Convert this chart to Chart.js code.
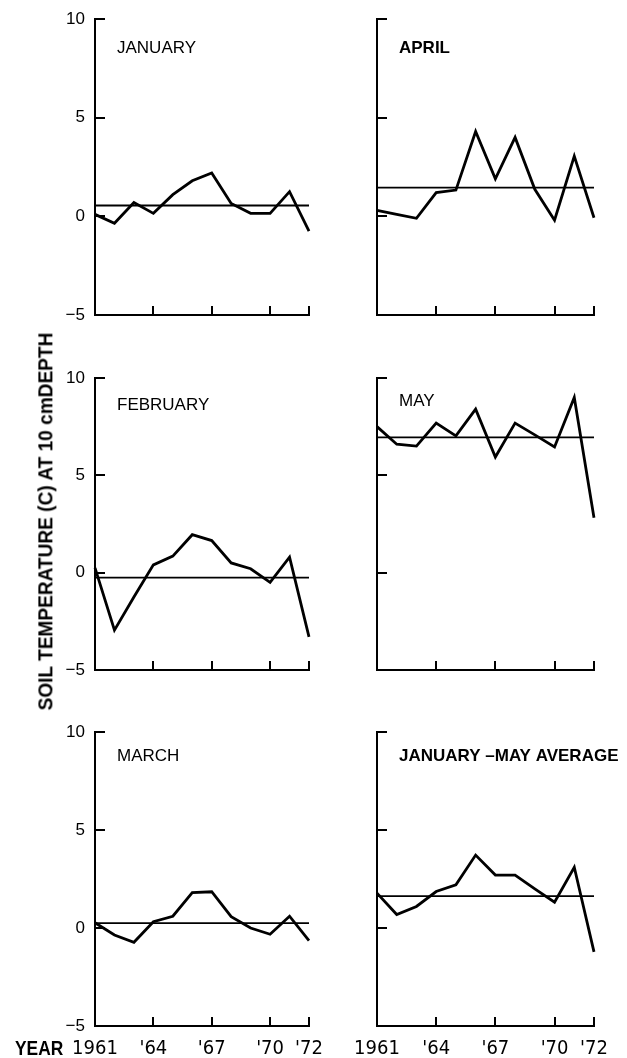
<!DOCTYPE html>
<html>
<head>
<meta charset="utf-8">
<script src="https://cdn.jsdelivr.net/npm/chart.js@4.4.0/dist/chart.umd.min.js"></script>
<style>
  html, body { margin: 0; padding: 0; background: #fff; }
  body { width: 627px; height: 1058px; position: relative; overflow: hidden; }
  canvas { position: absolute; }
  .lbl { position: absolute; white-space: nowrap; color: #000; line-height: 1; font-family: "Liberation Sans", Arial, sans-serif; font-weight: bold; }
  #ylab { font-size: 21px; transform-origin: 50% 50%; }
  #year { font-size: 21px; transform-origin: 0 50%; }
</style>
</head>
<body>
<canvas id="c0"></canvas>
<canvas id="c1"></canvas>
<canvas id="c2"></canvas>
<canvas id="c3"></canvas>
<canvas id="c4"></canvas>
<canvas id="c5"></canvas>
<div class="lbl" id="ylab">SOIL TEMPERATURE (C) AT 10 cmDEPTH</div>
<div class="lbl" id="year">YEAR</div>
<script>
// ---------------- data ----------------
const years = [1961, 1962, 1963, 1964, 1965, 1966, 1967, 1968, 1969, 1970, 1971, 1972];
const january  = [0.1, -0.35, 0.7, 0.15, 1.1, 1.8, 2.2, 0.65, 0.15, 0.15, 1.25, -0.75];
const february = [0.25, -2.95, -1.25, 0.4, 0.85, 1.95, 1.65, 0.5, 0.2, -0.5, 0.8, -3.3];
const march    = [0.27, -0.36, -0.73, 0.32, 0.6, 1.8, 1.85, 0.58, 0.0, -0.32, 0.6, -0.65];
const april    = [0.3, 0.1, -0.1, 1.2, 1.33, 4.3, 1.9, 4.0, 1.37, -0.2, 3.05, -0.07];
const may      = [7.5, 6.6, 6.5, 7.68, 7.03, 8.4, 5.94, 7.68, 7.08, 6.46, 9.0, 2.82];
const janMayAverage = [1.78, 0.69, 1.1, 1.86, 2.2, 3.72, 2.7, 2.7, 2.0, 1.32, 3.1, -1.22];
const januaryMean = 0.55;
const februaryMean = -0.25;
const marchMean = 0.25;
const aprilMean = 1.45;
const mayMean = 6.95;
const janMayAverageMean = 1.63;
const yTicks = [-5, 0, 5, 10];
const yTickLabels = ['\u22125', '0', '5', '10'];
const xTicks = [1961, 1964, 1967, 1970, 1972];
const xTickLabels = ['1961', "'64", "'67", "'70", "'72"];
const panelTitles = ['JANUARY', 'APRIL', 'FEBRUARY', 'MAY', 'MARCH', 'JANUARY \u2013MAY AVERAGE'];

// ---------------- layout ----------------
const cols = [
  { left: 0,   width: 330, axisW: 95, padR: 21 },
  { left: 330, width: 297, axisW: 47, padR: 33 }
];
const rows = [
  { top: 0,   height: 340, padT: 19, axisH: 25 },
  { top: 340, height: 360, padT: 38, axisH: 30 },
  { top: 700, height: 358, padT: 32, axisH: 32 }
];
const panels = [
  { values: january,       mean: januaryMean,       col: 0, row: 0, bold: false, tdy: 29 },
  { values: april,         mean: aprilMean,         col: 1, row: 0, bold: true,  tdy: 29 },
  { values: february,      mean: februaryMean,      col: 0, row: 1, bold: false, tdy: 27 },
  { values: may,           mean: mayMean,           col: 1, row: 1, bold: false, tdy: 23 },
  { values: march,         mean: marchMean,         col: 0, row: 2, bold: false, tdy: 24 },
  { values: janMayAverage, mean: janMayAverageMean, col: 1, row: 2, bold: true,  tdy: 24.5 }
];
const FONT = "'Liberation Sans', Arial, sans-serif";
const NARROW = "'Liberation Sans Narrow', 'Arial Narrow', 'DejaVu Sans Condensed', 'Liberation Sans', sans-serif";

const innerTicks = {
  id: 'innerTicks',
  afterDatasetsDraw(chart, args, opts) {
    const { ctx, chartArea: a, scales: { x, y } } = chart;
    ctx.save();
    ctx.strokeStyle = '#000';
    ctx.lineWidth = 2;
    yTicks.forEach(v => {
      const py = Math.round(y.getPixelForValue(v));
      ctx.beginPath(); ctx.moveTo(a.left, py); ctx.lineTo(a.left + 10, py); ctx.stroke();
    });
    xTicks.slice(1).forEach(v => {
      const px = Math.round(x.getPixelForValue(v));
      ctx.beginPath(); ctx.moveTo(px, a.bottom); ctx.lineTo(px, a.bottom - 9); ctx.stroke();
    });
    ctx.fillStyle = '#000';
    ctx.font = (opts.bold ? 'bold ' : '') + '17px ' + FONT;
    ctx.textBaseline = 'middle';
    ctx.textAlign = 'left';
    ctx.fillText(opts.title, a.left + 22, a.top + opts.tdy);
    ctx.restore();
  }
};

panels.forEach((p, i) => {
  const c = cols[p.col], r = rows[p.row];
  const cv = document.getElementById('c' + i);
  cv.width = c.width; cv.height = r.height;
  cv.style.left = c.left + 'px'; cv.style.top = r.top + 'px';
  cv.style.width = c.width + 'px'; cv.style.height = r.height + 'px';
  const showY = p.col === 0, showX = p.row === 2;
  new Chart(cv, {
    type: 'line',
    data: {
      datasets: [
        {
          data: years.map((yr, k) => ({ x: yr, y: p.values[k] })),
          borderColor: '#000', borderWidth: 2.8, pointRadius: 0, tension: 0,
          borderJoinStyle: 'miter', clip: false, fill: false
        },
        {
          data: [{ x: years[0], y: p.mean }, { x: years[years.length - 1], y: p.mean }],
          borderColor: '#000', borderWidth: 1.8, pointRadius: 0, tension: 0, clip: false, fill: false
        }
      ]
    },
    options: {
      responsive: false, animation: false, devicePixelRatio: 1,
      layout: { padding: { top: r.padT, right: c.padR, left: 0, bottom: 0 } },
      plugins: {
        legend: { display: false }, tooltip: { enabled: false },
        innerTicks: { title: panelTitles[i], bold: p.bold, tdy: p.tdy }
      },
      scales: {
        x: {
          type: 'linear', min: years[0], max: years[years.length - 1],
          grid: { display: false, drawTicks: false },
          border: { display: true, color: '#000', width: 2 },
          afterBuildTicks: s => { s.ticks = xTicks.map(v => ({ value: v })); },
          afterFit: s => { s.height = r.axisH; s.paddingLeft = 0; s.paddingRight = 0; },
          ticks: {
            display: showX, autoSkip: false, maxRotation: 0, padding: 11, color: '#000',
            font: { family: NARROW, size: 20 },
            callback: (v, k) => xTickLabels[k]
          }
        },
        y: {
          type: 'linear', min: yTicks[0], max: yTicks[yTicks.length - 1],
          grid: { display: false, drawTicks: false },
          border: { display: true, color: '#000', width: 2 },
          afterBuildTicks: s => { s.ticks = yTicks.map(v => ({ value: v })); },
          afterFit: s => { s.width = c.axisW; s.paddingTop = 0; s.paddingBottom = 0; },
          ticks: {
            display: showY, padding: 10, color: '#000',
            font: { family: FONT, size: 17 },
            callback: (v, k) => yTickLabels[k]
          }
        }
      }
    },
    plugins: [innerTicks]
  });
});

// axis titles (HTML text)
function placeLabel(id, targetLen, cx, cy, rotate) {
  const el = document.getElementById(id);
  const w = el.offsetWidth, h = el.offsetHeight;
  const k = targetLen / w;
  if (rotate) {
    el.style.left = (cx - w / 2) + 'px';
    el.style.top = (cy - h / 2) + 'px';
    el.style.transform = 'rotate(-90deg) scaleX(' + k + ')';
  } else {
    el.style.left = cx + 'px';
    el.style.top = (cy - h / 2) + 'px';
    el.style.transform = 'scaleX(' + k + ')';
  }
}
placeLabel('ylab', 378, 45, 521, true);
placeLabel('year', 48, 15, 1047.5, false);
</script>
</body>
</html>
